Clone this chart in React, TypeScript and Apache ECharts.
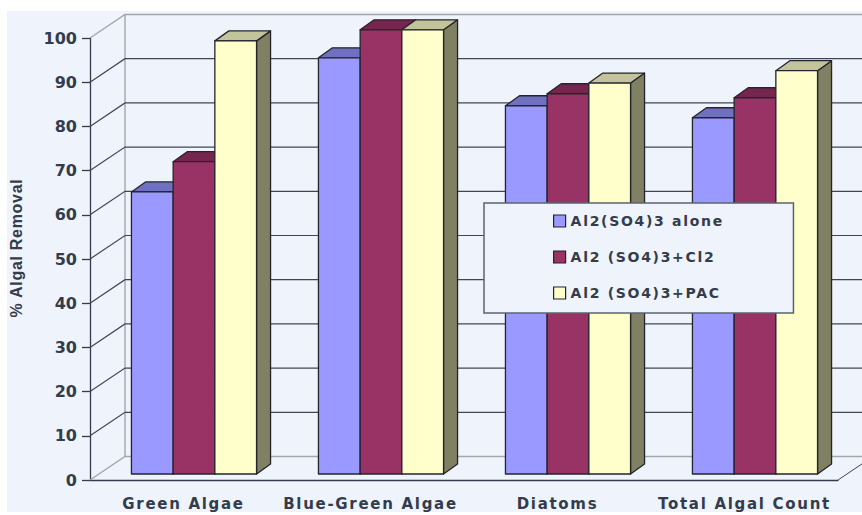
import React, { useEffect, useRef } from "react";
import * as echarts from "echarts";

const categories = ["Green Algae", "Blue-Green Algae", "Diatoms", "Total Algal Count"];
const aluminiumAlone = [63.5, 93.7, 82.9, 80.2];
const aluminiumChlorine = [70.3, 100, 85.6, 84.7];
const aluminiumCarbon = [97.5, 100, 88, 90.8];
const gridValues = [0, 10, 20, 30, 40, 50, 60, 70, 80, 90, 100];

const INK = "#333c4c";
const PANEL = "#eff3fb";
const WALL_EDGE = "#a3a7ac";
const OUTLINE = "#24242c";

// Oblique projection of the 3D look: wall depth and the plane the bars stand on.
const WALL_DX = 35;
const WALL_DY = -23.5;
const BAR_DX = 10.5;
const BAR_DY = -6;
const BAR_DEPTH_X = 14;
const BAR_DEPTH_Y = -10;
const BAR_WIDTH = 41.7;
const BAR_PLANE_SCALE = 1.005;

type Palette = { front: string; top: string; side: string };

const palettes: Palette[] = [
  { front: "#9999ff", top: "#7070c0", side: "#6666a8" },
  { front: "#993366", top: "#76264e", side: "#5f2040" },
  { front: "#ffffcc", top: "#c4c49c", side: "#808062" },
];

const poly = (points: number[][], fill: string, z2: number) => ({
  type: "polygon",
  z2,
  shape: { points },
  style: { fill, stroke: OUTLINE, lineWidth: 1.3, lineJoin: "round" },
});

function barRenderer(slot: number) {
  const palette = palettes[slot];
  return (_params: any, api: any) => {
    const [cx, top0] = api.coord([api.value(0), api.value(1)]);
    const [, base0] = api.coord([api.value(0), 0]);
    const x0 = cx + BAR_DX + (slot - 1.5) * BAR_WIDTH;
    const x1 = x0 + BAR_WIDTH;
    const base = base0 + BAR_DY;
    const top = base + (top0 - base0) * BAR_PLANE_SCALE;
    return {
      type: "group",
      children: [
        poly(
          [[x1, top], [x1 + BAR_DEPTH_X, top + BAR_DEPTH_Y], [x1 + BAR_DEPTH_X, base + BAR_DEPTH_Y], [x1, base]],
          palette.side,
          1,
        ),
        poly(
          [[x0, top], [x0 + BAR_DEPTH_X, top + BAR_DEPTH_Y], [x1 + BAR_DEPTH_X, top + BAR_DEPTH_Y], [x1, top]],
          palette.top,
          1,
        ),
        poly([[x0, top], [x1, top], [x1, base], [x0, base]], palette.front, 2),
      ],
    };
  };
}

// Back wall, side wall and floor lines for one axis value.
function wallRenderer(params: any, api: any) {
  const value = api.value(1);
  const [, y] = api.coord([0, value]);
  const left = params.coordSys.x;
  const right = left + params.coordSys.width;
  const edge = value === 0 || value === 100;
  const stroke = edge ? WALL_EDGE : "#3f4757";
  const backY = y + WALL_DY;
  const children: any[] = [
    {
      type: "polyline",
      shape: { points: [[left, y], [left + WALL_DX, backY], [right + WALL_DX, backY]] },
      style: { fill: "none", stroke, lineWidth: edge ? 1.4 : 1.2 },
    },
  ];
  if (value === 0) {
    children.push({
      type: "line",
      shape: { x1: right, y1: y, x2: right + WALL_DX, y2: backY },
      style: { stroke: "#3f4757", lineWidth: 1 },
    });
    children.push({
      type: "line",
      shape: { x1: left + WALL_DX, y1: backY, x2: left + WALL_DX, y2: api.coord([0, 100])[1] + WALL_DY },
      style: { stroke: WALL_EDGE, lineWidth: 1.4 },
    });
  }
  return { type: "group", children };
}

const barSeries = (name: string, values: number[], slot: number) => ({
  type: "custom",
  name,
  z: 3 + slot,
  renderItem: barRenderer(slot),
  encode: { x: 0, y: 1 },
  itemStyle: { color: palettes[slot].front },
  data: values.map((v, i) => [i, v]),
});

// Wide-set lettering for the labels; the 16px axis numbers stay tight.
const textSpacing = `
  .algae-chart svg text { letter-spacing: 1.7px; }
  .algae-chart svg text[style*="16px"] { letter-spacing: 0; }
  .algae-chart svg text[style*="Liberation"] { letter-spacing: 0.7px; }
`;

export default function App() {
  const ref = useRef<HTMLDivElement>(null);

  useEffect(() => {
    const chart = echarts.init(ref.current!, null, { renderer: "svg" });
    chart.setOption({
      animation: false,
      backgroundColor: "#ffffff",
      graphic: [
        {
          type: "rect",
          z: -1,
          shape: { x: 7, y: 11, width: 855, height: 501 },
          style: { fill: PANEL },
        },
      ],
      grid: { left: 90, top: 38, width: 748, height: 442 },
      xAxis: {
        type: "category",
        data: categories,
        axisLine: { lineStyle: { color: INK, width: 1.3 } },
        axisTick: { length: 7, lineStyle: { color: INK, width: 1.3 } },
        axisLabel: {
          interval: 0,
          hideOverlap: false,
          margin: 16,
          color: INK,
          fontFamily: "DejaVu Sans",
          fontWeight: "bold",
          fontSize: 15,
        },
      },
      yAxis: {
        type: "value",
        min: 0,
        max: 100,
        interval: 10,
        name: "% Algal Removal",
        nameLocation: "middle",
        nameGap: 66,
        nameTextStyle: {
          color: INK,
          fontFamily: "Liberation Sans",
          fontWeight: "bold",
          fontSize: 16,
          padding: [0, 0, 0, 22],
        },
        splitLine: { show: false },
        axisLine: { show: true, lineStyle: { color: INK, width: 1.3 } },
        axisTick: { show: true, length: 8, lineStyle: { color: INK, width: 1.3 } },
        axisLabel: {
          margin: 13,
          color: INK,
          fontFamily: "DejaVu Sans",
          fontWeight: "bold",
          fontSize: 16,
        },
      },
      legend: {
        orient: "vertical",
        left: 484,
        top: 203,
        z: 20,
        padding: [11, 95, 13, 69],
        itemWidth: 12,
        itemHeight: 12,
        itemGap: 22,
        backgroundColor: PANEL,
        borderColor: "#5a6472",
        borderWidth: 1.5,
        icon: "rect",
        itemStyle: { borderColor: OUTLINE, borderWidth: 1.2 },
        textStyle: {
          color: INK,
          fontFamily: "DejaVu Sans",
          fontWeight: "bold",
          fontSize: 14,
        },
        data: ["Al2(SO4)3 alone", "Al2 (SO4)3+Cl2", "Al2 (SO4)3+PAC"],
      },
      series: [
        {
          type: "custom",
          name: "walls",
          z: 1,
          silent: true,
          renderItem: wallRenderer,
          encode: { x: 0, y: 1 },
          data: gridValues.map((v) => [0, v]),
        },
        barSeries("Al2(SO4)3 alone", aluminiumAlone, 0),
        barSeries("Al2 (SO4)3+Cl2", aluminiumChlorine, 1),
        barSeries("Al2 (SO4)3+PAC", aluminiumCarbon, 2),
      ],
    });
    return () => chart.dispose();
  }, []);

  return (
    <div className="algae-chart">
      <style>{textSpacing}</style>
      <div ref={ref} style={{ position: "fixed", left: 0, top: 0, width: 862, height: 515 }} />
    </div>
  );
}
